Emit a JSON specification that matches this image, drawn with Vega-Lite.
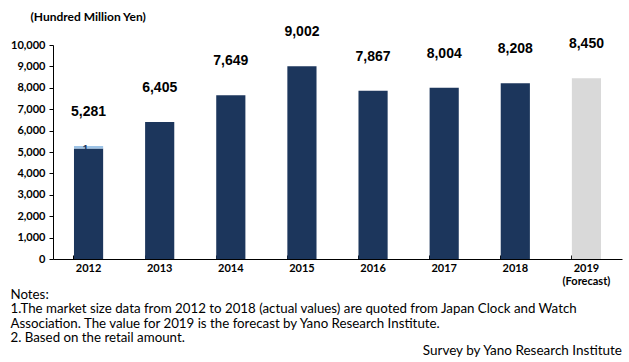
{
  "$schema": "https://vega.github.io/schema/vega-lite/v6.json",
  "width": 569,
  "height": 214,
  "autosize": {"type": "none"},
  "padding": {"left": 53, "top": 45, "right": 7, "bottom": 103},
  "background": "white",
  "config": {"view": {"stroke": null}},
  "title": {
    "text": "Survey by Yano Research Institute",
    "orient": "bottom",
    "anchor": "end",
    "font": "Lato",
    "fontSize": 13.5,
    "fontWeight": "normal",
    "color": "black",
    "offset": 0
  },
  "datasets": {
    "bars": [
      {"year": "2012", "segment": "main", "value": 5160, "total": 5281, "seglabel": ""},
      {"year": "2012", "segment": "minor", "value": 121, "total": 5281, "seglabel": "1"},
      {"year": "2013", "segment": "main", "value": 6405, "total": 6405, "seglabel": ""},
      {"year": "2014", "segment": "main", "value": 7649, "total": 7649, "seglabel": ""},
      {"year": "2015", "segment": "main", "value": 9002, "total": 9002, "seglabel": ""},
      {"year": "2016", "segment": "main", "value": 7867, "total": 7867, "seglabel": ""},
      {"year": "2017", "segment": "main", "value": 8004, "total": 8004, "seglabel": ""},
      {"year": "2018", "segment": "main", "value": 8208, "total": 8208, "seglabel": ""},
      {"year": "2019", "segment": "forecast", "value": 8450, "total": 8450, "seglabel": ""}
    ],
    "totals": [
      {"year": "2012", "total": 5281},
      {"year": "2013", "total": 6405},
      {"year": "2014", "total": 7649},
      {"year": "2015", "total": 9002},
      {"year": "2016", "total": 7867},
      {"year": "2017", "total": 8004},
      {"year": "2018", "total": 8208},
      {"year": "2019", "total": 8450}
    ]
  },
  "resolve": {"axis": {"y": "independent"}},
  "encoding": {
    "x": {
      "field": "year",
      "type": "nominal",
      "sort": null,
      "scale": {"paddingInner": 0.59, "paddingOuter": 0.295},
      "axis": {
        "title": ["Notes:", "1.The market size data from 2012 to 2018 (actual values) are quoted from Japan Clock and Watch", "Association.  The value for 2019 is the forecast by Yano Research Institute.", "2.  Based on the retail amount."],
        "titleFont": "Lato",
        "titleFontSize": 13.3,
        "titleFontWeight": "normal",
        "titleColor": "black",
        "titleAlign": "left",
        "titleAnchor": null,
        "titleX": -43,
        "titleY": 28,
        "titleBaseline": "top",
        "titleLineHeight": 14.5,
        "labelAngle": 0,
        "labelFont": "Lato",
        "labelFontSize": 11,
        "labelFontWeight": "bold",
        "labelColor": "black",
        "labelPadding": 7,
        "labelLineHeight": 13,
        "labelExpr": "datum.value == '2019' ? ['2019', '(Forecast)'] : datum.value",
        "bandPosition": 0,
        "ticks": true,
        "tickSize": -4,
        "tickWidth": 1,
        "tickColor": "black",
        "domainColor": "black",
        "domainWidth": 1
      }
    }
  },
  "layer": [
    {
      "data": {"name": "bars"},
      "mark": {"type": "bar"},
      "encoding": {
        "y": {
          "field": "value",
          "type": "quantitative",
          "stack": "zero",
          "scale": {"domain": [0, 10000], "nice": false},
          "axis": {
            "values": [0, 1000, 2000, 3000, 4000, 5000, 6000, 7000, 8000, 9000, 10000],
            "format": ",.0f",
            "labelOverlap": false,
            "grid": false,
            "title": "(Hundred Million Yen)",
            "titleAngle": 0,
            "titleAlign": "left",
            "titleAnchor": null,
            "titleX": -23,
            "titleY": -29,
            "titleBaseline": "middle",
            "titleFont": "Lato",
            "titleFontSize": 12,
            "titleFontWeight": "bold",
            "titleColor": "black",
            "labelFont": "Lato",
            "labelFontSize": 11,
            "labelFontWeight": "bold",
            "labelColor": "black",
            "labelPadding": 4,
            "tickSize": 4,
            "tickColor": "black",
            "domainColor": "black"
          }
        },
        "color": {
          "field": "segment",
          "type": "nominal",
          "scale": {"domain": ["main", "minor", "forecast"], "range": ["#1c365c", "#9dc3e6", "#d9d9d9"]},
          "legend": null
        },
        "order": {"field": "segment", "sort": "ascending"}
      }
    },
    {
      "data": {"name": "totals"},
      "mark": {"type": "text", "font": "Liberation Sans", "fontSize": 14, "fontWeight": "bold", "color": "black", "dy": -34, "baseline": "middle"},
      "encoding": {
        "y": {"field": "total", "type": "quantitative", "axis": null},
        "text": {"field": "total", "type": "quantitative", "format": ","}
      }
    },
    {
      "data": {"name": "bars"},
      "transform": [{"filter": "datum.segment == 'minor'"}],
      "mark": {"type": "text", "font": "Liberation Sans", "fontSize": 10, "fontWeight": "bold", "color": "#1c365c", "dy": 4, "dx": -3, "baseline": "middle"},
      "encoding": {
        "y": {"field": "total", "type": "quantitative", "axis": null},
        "text": {"field": "seglabel"}
      }
    }
  ]
}
